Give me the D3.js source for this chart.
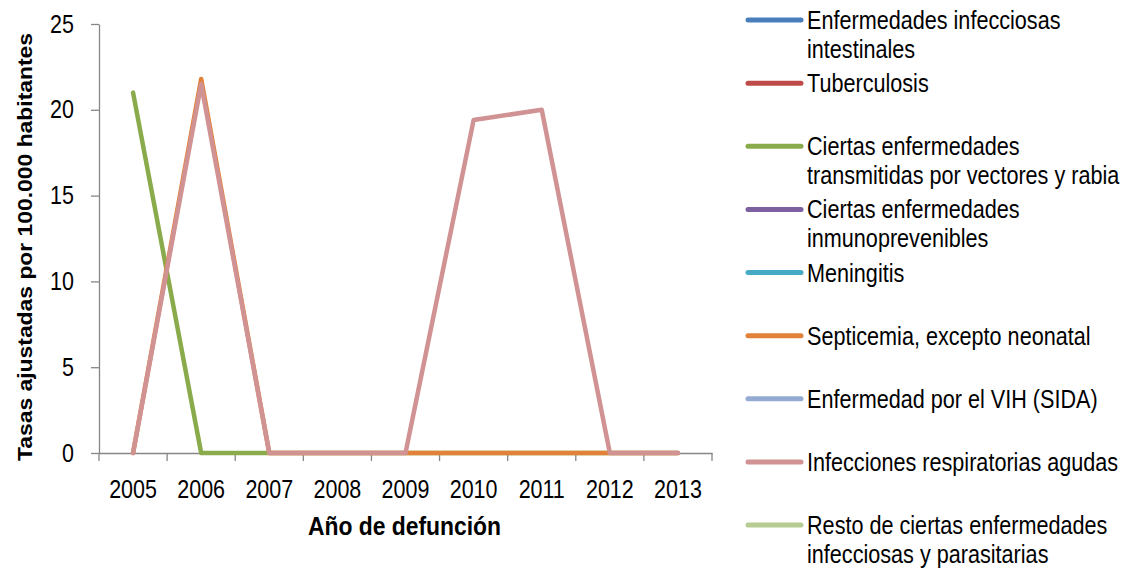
<!DOCTYPE html>
<html>
<head>
<meta charset="utf-8">
<script src="https://cdn.jsdelivr.net/npm/d3@7"></script>
<style>
  body { margin: 0; background: #fff; }
  svg { font-family: "Liberation Sans", Arial, sans-serif; }
</style>
</head>
<body>
<svg id="chart" width="1128" height="569"></svg>
<script>
const years = ["2005", "2006", "2007", "2008", "2009", "2010", "2011", "2012", "2013"];
const yTicks = [0, 5, 10, 15, 20, 25];

const seriesNames = [
  ["Enfermedades infecciosas", "intestinales"],
  ["Tuberculosis"],
  ["Ciertas enfermedades", "transmitidas por vectores y rabia"],
  ["Ciertas enfermedades", "inmunoprevenibles"],
  ["Meningitis"],
  ["Septicemia, excepto neonatal"],
  ["Enfermedad por el VIH (SIDA)"],
  ["Infecciones respiratorias agudas"],
  ["Resto de ciertas enfermedades", "infecciosas y parasitarias"]
];
const seriesColors = ["#4a7ebb", "#be4b48", "#8aab4b", "#7d60a0", "#46aac5",
                      "#e2823a", "#93abd2", "#d09293", "#b6cc93"];

// values per series (null = no data)
const intestinales  = [null, null, null, null, null, null, null, null, null];
const tuberculosis  = [null, null, null, null, null, null, null, null, null];
const vectores      = [21, 0, 0, 0, 0, 0, 0, 0, 0];
const inmunoprev    = [null, null, null, null, null, null, null, null, null];
const meningitis    = [null, null, null, null, null, null, null, null, null];
const septicemia    = [0, 21.8, 0, 0, 0, 0, 0, 0, 0];
const vih           = [null, null, null, null, null, null, null, null, null];
const respiratorias = [0, 21.5, 0, 0, 0, 19.4, 20, 0, 0];
const resto         = [null, null, null, null, null, null, null, null, null];

const seriesValues = [intestinales, tuberculosis, vectores, inmunoprev, meningitis,
                      septicemia, vih, respiratorias, resto];

const svg = d3.select("#chart");
const plotLeft = 99, plotRight = 712, plotTop = 24, plotBottom = 453;
const axisGrey = "#868686";

// the source picture has slightly narrow, tall lettering: squeeze along the text direction
function condense(sel, k) {
  sel.each(function () {
    const t = d3.select(this);
    const x0 = +t.attr("x") || 0;
    const tr = t.attr("transform");
    t.attr("x", x0 / k)
     .attr("transform", (tr ? tr + " " : "") + `scale(${k},1)`);
  });
}

const xBand = d3.scaleBand().domain(years).range([plotLeft, plotRight]);
const x = d => xBand(d) + xBand.bandwidth() / 2;
const y = d3.scaleLinear().domain([0, 25]).range([plotBottom, plotTop]);

// y axis
const yAxis = svg.append("g")
  .attr("transform", `translate(${plotLeft},0)`)
  .call(d3.axisLeft(y).tickValues(yTicks).tickSize(8).tickSizeOuter(0).tickPadding(17));
yAxis.select(".domain").attr("stroke", axisGrey).attr("stroke-width", 1.3);
yAxis.selectAll(".tick line").attr("stroke", axisGrey).attr("stroke-width", 1.3);
yAxis.selectAll("text").attr("font-size", 25).attr("fill", "#000")
  .attr("font-family", "Liberation Sans, Arial, sans-serif")
  .call(condense, 0.86);

// x axis
const xAxis = svg.append("g")
  .attr("transform", `translate(0,${plotBottom})`)
  .call(d3.axisBottom(xBand).tickSize(0).tickPadding(27));
xAxis.select(".domain").attr("stroke", axisGrey).attr("stroke-width", 1.3);
xAxis.selectAll("text").attr("font-size", 25).attr("fill", "#000")
  .attr("font-family", "Liberation Sans, Arial, sans-serif")
  .call(condense, 0.86);
// boundary tick marks between categories
xAxis.selectAll(".sep")
  .data(d3.range(years.length + 1))
  .join("line")
  .attr("x1", i => plotLeft + i * xBand.step())
  .attr("x2", i => plotLeft + i * xBand.step())
  .attr("y1", 0).attr("y2", 8)
  .attr("stroke", axisGrey).attr("stroke-width", 1.3);

// lines
const line = d3.line()
  .defined(d => d.v !== null)
  .x(d => x(d.year))
  .y(d => y(d.v));

svg.append("g").selectAll("path")
  .data(seriesValues)
  .join("path")
  .attr("d", vals => line(vals.map((v, i) => ({ year: years[i], v }))))
  .attr("fill", "none")
  .attr("stroke", (d, i) => seriesColors[i])
  .attr("stroke-width", 4.5)
  .attr("stroke-linejoin", "round")
  .attr("stroke-linecap", "round");

// axis titles
svg.append("text")
  .attr("transform", "translate(32,247) rotate(-90)")
  .attr("text-anchor", "middle")
  .attr("font-size", 21)
  .attr("font-weight", "bold")
  .text("Tasas ajustadas por 100.000 habitantes")
  .call(condense, 1.09);

svg.append("text")
  .attr("x", (plotLeft + plotRight) / 2 - 1)
  .attr("y", 535)
  .attr("text-anchor", "middle")
  .attr("font-size", 26)
  .attr("font-weight", "bold")
  .text("Año de defunción")
  .call(condense, 0.88);

// legend
const legY = d3.scalePoint().domain(d3.range(seriesNames.length)).range([20, 525]);
const leg = svg.append("g").selectAll("g")
  .data(seriesNames)
  .join("g")
  .attr("transform", (d, i) => `translate(0,${legY(i)})`);

leg.append("line")
  .attr("x1", 748).attr("x2", 801)
  .attr("stroke", (d, i) => seriesColors[i])
  .attr("stroke-width", 5)
  .attr("stroke-linecap", "round");

leg.selectAll("text")
  .data(d => d)
  .join("text")
  .attr("x", 807)
  .attr("y", (d, i) => 9 + i * 29)
  .attr("font-size", 25)
  .text(d => d)
  .call(condense, 0.865);
</script>
</body>
</html>
